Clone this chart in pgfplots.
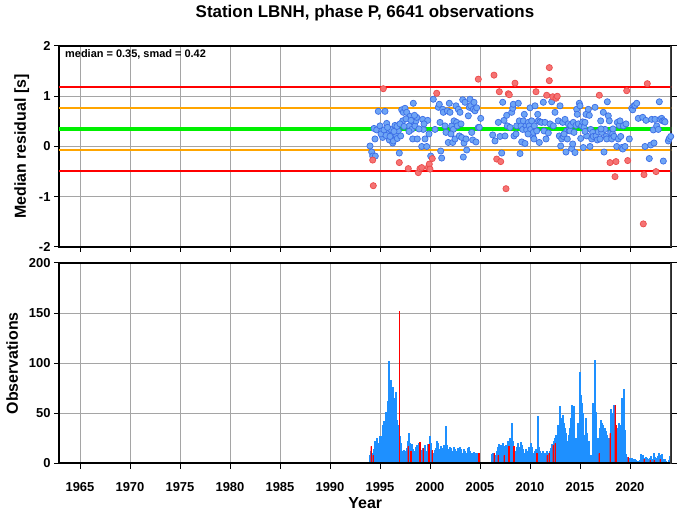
\documentclass[border=0pt]{standalone}
\usepackage{fontspec}
\setmainfont{Liberation Sans}
\usepackage{pgfplots}
\usepackage{pgfplotstable}
\pgfplotsset{compat=1.18}
\definecolor{ptblue}{RGB}{110,165,245}
\definecolor{ptblueedge}{RGB}{60,110,230}
\definecolor{ptred}{RGB}{245,115,115}
\definecolor{ptrededge}{RGB}{235,75,75}
\definecolor{barblue}{RGB}{30,144,255}
\definecolor{myorange}{RGB}{255,165,0}
\definecolor{mygreen}{RGB}{0,240,0}
\definecolor{gridgray}{RGB}{165,165,165}

\pgfplotstableread{
x y
1994.00 0.01
1994.17 -0.11
1994.27 -0.19
1994.53 -0.19
1994.40 0.36
1994.67 0.33
1994.50 0.15
1994.83 0.70
1995.00 0.41
1995.17 0.31
1995.27 0.18
1995.50 0.70
1995.67 0.46
1995.83 0.28
1995.93 0.13
1996.07 0.34
1996.17 0.23
1996.27 0.07
1996.33 0.11
1996.50 0.42
1996.60 0.23
1996.73 0.16
1996.83 0.31
1996.93 -0.13
1997.07 0.21
1997.27 0.51
1997.17 0.73
1997.33 0.68
1997.50 0.76
1997.67 0.68
1997.93 0.41
1998.00 0.60
1998.17 0.34
1998.27 0.15
1998.33 0.86
1998.40 0.48
1998.50 0.41
1998.60 0.51
1998.67 0.58
1998.73 0.15
1999.17 0.00
1999.27 0.54
1999.33 0.34
1999.50 0.15
1999.67 0.00
1999.77 0.52
2000.07 -0.19
2000.33 0.94
2000.50 0.34
2000.83 0.78
2000.93 0.84
2001.00 0.48
2001.07 -0.09
2001.17 -0.23
2001.27 0.74
2001.33 0.68
2001.50 0.41
2001.60 0.28
2001.73 0.71
2001.83 0.08
2001.93 0.86
2002.00 0.68
2002.17 0.41
2002.27 0.08
2002.33 0.34
2002.40 0.51
2002.50 0.15
2002.60 0.81
2002.67 0.48
2002.73 0.41
2002.83 0.74
2002.93 0.21
2003.00 0.68
2003.17 0.18
2003.27 0.93
2003.33 -0.21
2003.40 0.07
2003.50 0.88
2003.60 0.15
2003.67 -0.07
2003.83 0.61
2003.93 0.78
2004.00 0.94
2004.07 0.81
2004.17 0.28
2004.27 0.13
2004.33 0.74
2004.40 0.88
2004.50 0.71
2004.60 0.09
2004.67 0.77
2004.83 0.38
2004.93 0.38
2005.07 0.56
2006.27 0.23
2006.50 0.11
2006.83 0.48
2007.00 0.20
2007.17 -0.13
2007.27 0.88
2007.40 0.52
2007.50 0.21
2007.67 0.62
2007.73 0.41
2008.00 0.38
2008.17 0.68
2008.27 0.76
2008.33 0.84
2008.40 0.21
2008.60 0.25
2008.67 0.41
2008.83 0.86
2008.93 0.51
2009.00 -0.14
2009.10 0.41
2009.17 0.09
2009.27 0.34
2009.33 0.51
2009.43 0.64
2009.50 0.06
2009.60 0.41
2009.67 0.33
2009.83 0.48
2009.93 0.41
2010.00 0.77
2010.07 0.34
2010.17 0.51
2010.27 0.21
2010.33 0.28
2010.43 0.41
2010.50 0.81
2010.67 0.31
2010.77 0.64
2010.83 0.51
2010.93 0.08
2011.00 0.49
2011.17 0.48
2011.33 0.88
2011.40 0.31
2011.50 0.48
2011.60 0.15
2011.83 0.27
2012.00 0.45
2012.17 0.89
2012.33 0.41
2012.50 0.68
2012.83 0.51
2012.93 0.21
2013.00 0.81
2013.07 0.01
2013.17 0.15
2013.27 0.48
2013.33 0.20
2013.50 0.54
2013.60 -0.11
2013.67 0.31
2013.73 0.15
2013.83 0.45
2013.93 0.33
2014.00 0.31
2014.07 0.42
2014.17 -0.04
2014.27 0.05
2014.33 0.48
2014.50 -0.12
2014.60 0.42
2014.67 0.74
2014.73 0.64
2014.83 0.45
2014.93 0.86
2015.00 0.81
2015.07 0.16
2015.17 0.41
2015.27 0.49
2015.33 -0.02
2015.40 0.38
2015.50 0.48
2015.60 0.64
2015.67 0.21
2015.83 0.74
2015.93 0.62
2016.00 0.00
2016.07 0.34
2016.17 0.15
2016.27 0.28
2016.33 0.20
2016.50 0.78
2016.60 0.21
2016.73 0.13
2016.83 0.29
2017.00 0.15
2017.07 0.51
2017.17 0.28
2017.33 0.68
2017.40 -0.11
2017.50 0.34
2017.60 0.20
2017.67 0.15
2017.73 0.89
2017.83 0.61
2017.93 0.51
2018.07 0.27
2018.17 0.15
2018.27 0.25
2018.40 0.20
2018.67 0.00
2018.73 0.48
2018.83 0.15
2018.93 0.42
2019.00 0.51
2019.07 0.20
2019.17 -0.02
2019.27 -0.05
2019.33 0.41
2019.50 0.00
2019.60 0.45
2019.93 0.15
2020.17 0.76
2020.27 0.73
2020.40 0.81
2020.50 0.82
2020.67 0.86
2020.83 0.56
2021.27 0.58
2021.50 0.00
2021.60 0.52
2021.93 -0.24
2022.07 0.03
2022.17 0.54
2022.33 0.33
2022.40 0.07
2022.50 0.54
2022.67 0.41
2022.83 0.34
2022.93 0.89
2023.00 0.54
2023.17 0.56
2023.27 0.51
2023.33 -0.29
2023.40 0.51
2023.50 0.49
2023.83 0.11
2023.93 0.16
2024.07 0.20
1995.10 0.25
1995.40 0.33
1995.60 0.22
1995.75 0.38
1996.00 0.20
1996.40 0.30
1996.70 0.40
1997.00 0.45
1997.40 0.40
1997.60 0.55
1997.90 0.30
1998.10 0.52
1998.45 0.62
1998.90 0.35
1999.40 0.45
1999.90 0.25
2002.10 0.25
2003.10 0.45
2009.80 0.25
2010.40 0.15
2013.40 0.25
2014.40 0.28
2015.50 0.30
2017.10 0.35
2018.30 0.35
}\bluepts

\pgfplotstableread{
x y
1994.27 -0.27
1994.33 -0.78
1995.33 1.15
1996.93 -0.32
1997.83 -0.44
1998.83 -0.52
1999.00 -0.44
1999.17 -0.42
1999.83 -0.42
1999.93 -0.35
2000.00 -0.45
2000.23 -0.24
2000.67 1.06
2004.83 1.34
2006.40 1.42
2006.67 -0.25
2006.93 1.09
2007.07 -0.30
2007.60 -0.84
2007.83 1.05
2007.93 1.03
2008.50 1.26
2010.60 1.09
2011.67 1.02
2011.93 1.57
2011.93 1.31
2012.27 0.99
2012.60 0.96
2012.73 1.00
2016.93 1.02
2018.00 -0.32
2018.50 -0.60
2018.60 -0.30
2019.67 1.11
2019.77 -0.28
2021.33 -1.54
2021.40 -0.56
2021.73 1.25
2022.60 -0.50
}\redpts

\pgfplotstableread{
x y
1994.0 8
1994.1 12
1994.2 6
1994.3 10
1994.4 14
1994.5 22
1994.6 18
1994.7 25
1994.8 20
1994.9 12
1995.0 27
1995.1 20
1995.2 27
1995.3 38
1995.4 42
1995.5 40
1995.6 51
1995.7 48
1995.8 62
1995.9 102
1996.0 72
1996.1 83
1996.2 65
1996.3 76
1996.4 58
1996.5 65
1996.6 71
1996.7 43
1996.8 38
1996.9 35
1997.0 27
1997.1 20
1997.2 12
1997.3 10
1997.4 13
1997.5 8
1997.6 12
1997.7 15
1997.8 22
1997.9 30
1998.0 20
1998.1 17
1998.2 19
1998.3 14
1998.4 12
1998.5 8
1998.6 16
1998.7 18
1998.8 12
1998.9 20
1999.0 18
1999.1 8
1999.2 13
1999.3 15
1999.4 10
1999.5 18
1999.6 12
1999.7 8
1999.8 19
1999.9 14
2000.0 27
2000.1 20
2000.2 12
2000.3 8
2000.4 10
2000.5 13
2000.6 15
2000.7 22
2000.8 20
2000.9 14
2001.0 12
2001.1 17
2001.2 15
2001.3 12
2001.4 18
2001.5 16
2001.6 37
2001.7 18
2001.8 14
2001.9 12
2002.0 16
2002.1 15
2002.2 12
2002.3 10
2002.4 16
2002.5 14
2002.6 12
2002.7 10
2002.8 15
2002.9 12
2003.0 16
2003.1 14
2003.2 10
2003.3 8
2003.4 14
2003.5 12
2003.6 10
2003.7 5
2003.8 15
2003.9 16
2004.0 12
2004.1 10
2004.2 6
2004.3 10
2004.4 11
2004.5 8
2004.6 10
2004.7 6
2004.8 10
2006.2 9
2006.3 10
2006.4 5
2006.5 8
2006.6 6
2006.7 12
2006.8 16
2006.9 19
2007.0 15
2007.1 18
2007.2 12
2007.3 20
2007.4 17
2007.5 10
2007.6 18
2007.7 14
2007.8 22
2007.9 18
2008.0 25
2008.1 16
2008.2 40
2008.3 22
2008.4 15
2008.5 10
2008.6 12
2008.7 16
2008.8 20
2008.9 12
2009.0 16
2009.1 21
2009.2 18
2009.3 14
2009.4 10
2009.5 8
2009.6 14
2009.7 12
2009.8 10
2009.9 16
2010.0 14
2010.1 20
2010.2 16
2010.3 8
2010.4 10
2010.5 12
2010.6 14
2010.7 12
2010.8 47
2010.9 16
2011.0 12
2011.1 8
2011.2 10
2011.3 12
2011.4 6
2011.5 10
2011.6 8
2011.7 12
2011.8 8
2011.9 10
2012.0 12
2012.1 15
2012.2 19
2012.3 18
2012.4 22
2012.5 25
2012.6 28
2012.7 20
2012.8 38
2012.9 30
2013.0 57
2013.1 45
2013.2 32
2013.3 48
2013.4 40
2013.5 35
2013.6 30
2013.7 22
2013.8 15
2013.9 28
2014.0 35
2014.1 45
2014.2 58
2014.3 45
2014.4 57
2014.5 22
2014.6 25
2014.7 20
2014.8 40
2014.9 35
2015.0 91
2015.1 68
2015.2 60
2015.3 50
2015.4 28
2015.5 25
2015.6 45
2015.7 30
2015.8 20
2015.9 22
2016.0 8
2016.1 7
2016.2 8
2016.3 60
2016.4 45
2016.5 103
2016.6 51
2016.7 22
2016.8 25
2016.9 18
2017.0 35
2017.1 43
2017.2 40
2017.3 38
2017.4 30
2017.5 35
2017.6 32
2017.7 28
2017.8 22
2017.9 25
2018.0 20
2018.1 54
2018.2 50
2018.3 45
2018.4 58
2018.5 40
2018.6 38
2018.7 25
2018.8 35
2018.9 40
2019.0 30
2019.1 38
2019.2 65
2019.3 50
2019.4 74
2019.5 33
2019.6 9
2019.7 6
2019.8 5
2019.9 3
2020.0 5
2020.1 2
2020.2 5
2020.3 4
2020.4 2
2020.5 4
2020.6 3
2020.7 1
2020.8 2
2021.0 3
2021.1 9
2021.2 7
2021.3 8
2021.4 5
2021.5 3
2021.6 6
2021.7 5
2021.8 4
2021.9 2
2022.0 5
2022.1 7
2022.2 3
2022.3 4
2022.4 10
2022.5 6
2022.6 2
2022.7 5
2022.8 7
2022.9 10
2023.0 8
2023.1 6
2023.2 9
2023.3 4
2023.4 3
2023.5 4
2023.6 2
2023.8 1
2023.9 3
2024.0 7
}\bluebars

\pgfplotstableread{
x y
1994.1 17
1994.3 8
1996.93 152
1997.8 17
1998.05 12
1998.95 21
1999.3 15
1999.85 19
2000.2 13
2004.85 10
2006.4 10
2006.8 8
2007.4 8
2007.85 17
2008.35 17
2010.65 10
2011.7 8
2011.9 10
2012.3 18
2012.5 20
2016.9 10
2018.0 30
2018.5 58
2018.6 38
2019.8 6
2021.4 4
2022.0 3
2022.4 3
2023.0 4
}\redbars

\pgfplotsset{common/.style={
  width=612.5bp, height=201bp, scale only axis,
  xmin=1962.9, xmax=2024.15,
  xtick={1965,1970,1975,1980,1985,1990,1995,2000,2005,2010,2015,2020},
  grid=major, major grid style={gridgray, line width=0.7bp},
  tick align=outside, major tick length=5bp,
  xtick pos=left, ytick pos=both,
  tick style={black, line width=1bp},
  axis line style={black, line width=1.5bp},
  ticklabel style={font=\fontsize{13}{15}\selectfont\bfseries},
  label style={font=\fontsize{16}{19}\selectfont\bfseries},
  /pgf/number format/assume math mode=true,
}}

\begin{document}
\begin{tikzpicture}
\useasboundingbox (0,0) rectangle (677bp,511bp);
\begin{axis}[common, at={(59bp,264bp)}, anchor=south west,
  ymin=-2, ymax=2, ytick={-2,-1,0,1,2}, yticklabels={-2,-1,0,1,2},
  xticklabels={},
  ylabel={Median residual [s]}, ylabel style={yshift=3bp}]
\addplot[red, line width=2bp] coordinates {(1962.9,1.19) (2024.15,1.19)};
\addplot[red, line width=2bp] coordinates {(1962.9,-0.49) (2024.15,-0.49)};
\addplot[myorange, line width=2bp] coordinates {(1962.9,0.77) (2024.15,0.77)};
\addplot[myorange, line width=2bp] coordinates {(1962.9,-0.07) (2024.15,-0.07)};
\addplot[mygreen, line width=3.5bp] coordinates {(1962.9,0.35) (2024.15,0.35)};
\addplot[only marks, mark=*, mark size=3.1bp, mark options={fill=ptblue, draw=ptblueedge, line width=0.7bp}] table {\bluepts};
\addplot[only marks, mark=*, mark size=3.1bp, mark options={fill=ptred, draw=ptrededge, line width=0.7bp}] table {\redpts};
\draw[line width=2.5bp, black!75] (rel axis cs:1,0) -- (rel axis cs:1,1);
\node[anchor=north west, font=\fontsize{11}{13}\selectfont\bfseries, inner sep=0pt] at ([xshift=6bp,yshift=-3.5bp]rel axis cs:0,1) {median = 0.35, smad = 0.42};
\end{axis}
\begin{axis}[common, at={(59bp,47.5bp)}, anchor=south west, height=200.5bp,
  ymin=0, ymax=200, ytick={0,50,100,150,200}, yticklabels={0,50,100,150,200},
  xticklabels={1965,1970,1975,1980,1985,1990,1995,2000,2005,2010,2015,2020},
  xticklabel style={yshift=-10bp},
  xlabel={Year}, xlabel style={yshift=0bp},
  ylabel={Observations}, ylabel style={yshift=4bp}]
\addplot[ybar, bar width=0.11, bar shift=0pt, fill=barblue, draw=barblue, line width=0.35bp] table {\bluebars};
\addplot[ybar, bar width=0.06, bar shift=0pt, fill=red, draw=red, line width=0.4bp] table {\redbars};
\draw[line width=2bp, black] (rel axis cs:0,0) -- (rel axis cs:1,0);
\draw[line width=2.5bp, black!75] (rel axis cs:1,0) -- (rel axis cs:1,1);
\end{axis}
\node[font=\fontsize{17}{20}\selectfont\bfseries] at (365bp,498bp) {Station LBNH, phase P, 6641 observations};
\end{tikzpicture}
\end{document}
